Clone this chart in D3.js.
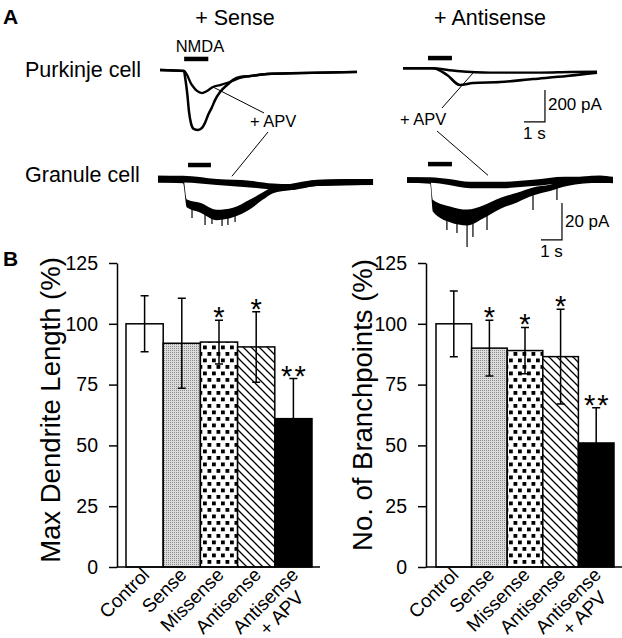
<!DOCTYPE html>
<html>
<head>
<meta charset="utf-8">
<script src="https://cdn.jsdelivr.net/npm/d3@7"></script>
<style>
  body { margin: 0; background: #fff; }
  svg { display: block; font-family: "Liberation Sans", Arial, Helvetica, sans-serif; }
</style>
</head>
<body>
<div id="fig"></div>
<script>
// ---- panel B data (percent of control) ----
const groups = ["Control", "Sense", "Missense", "Antisense", "Antisense + APV"];
const dendriteMean = [100, 92, 92.5, 90.5, 61];
const dendriteErr = [11.5, 18.5, 9, 14.5, 16.5];
const dendriteStars = ["", "", "*", "*", "**"];
const branchMean = [100, 90, 89, 86.5, 51];
const branchErr = [13.5, 11.5, 9.5, 19.5, 14.5];
const branchStars = ["", "*", "*", "*", "**"];
const yTicks = [0, 25, 50, 75, 100, 125];

// ---- panel A traces: [time (s), current (pA)] ----
const purkSenseCtl = [[0, 0], [1.14, -6], [1.2, -50], [1.3, -150], [1.38, -260], [1.48, -335], [1.6, -368],
  [1.81, -375], [2.0, -362], [2.14, -331], [2.29, -281], [2.48, -231], [2.62, -188], [2.86, -138],
  [3.19, -94], [3.48, -62], [3.81, -44], [4.29, -38], [5.1, -25], [6.67, -19], [9.38, -12]];
const purkSenseApv = [[0, 0], [1.14, -6], [1.52, -94], [1.76, -131], [2.0, -144], [2.24, -131],
  [2.52, -106], [2.86, -94], [3.33, -75], [3.81, -50], [4.29, -38], [5.1, -25], [6.67, -19], [9.38, -12]];
const purkAntiCtl = [[0, 0], [1.43, 0], [2.1, -42], [2.71, -104], [3.33, -92], [4.62, -86],
  [6.19, -67], [7.81, -48], [9.24, -27]];
const purkAntiApv = [[0, 0], [1.29, 0], [2.57, -17], [4.14, -27], [6.52, -27], [7.95, -23], [9.24, -21]];

// granule traces: [time (s), current (pA), noise half-width (pA)]
const granSenseCtl = [[0, 0.5, 1.8], [1.19, 0, 1.8], [1.38, -12.7, 2.2], [2.0, -14.9, 2.6], [2.81, -18.9, 2.8],
  [3.57, -17.6, 2.6], [4.38, -13.2, 2.6], [5.0, -8.6, 2.0], [5.48, -5.4, 1.7], [6.29, -3.8, 1.7],
  [7.57, -1.6, 1.7], [9.14, -1.1, 1.7], [10.24, -1.1, 1.6]];
const granSenseApv = [[0, 0.5, 1.8], [1.19, 0.5, 1.8], [2.81, -1.1, 1.6], [4.38, -2.2, 1.8], [5.48, -3.5, 1.6],
  [6.29, -3.8, 1.6], [7.57, -1.6, 1.6], [10.24, -1.1, 1.6]];
const granAntiCtl = [[0, 0, 1.5], [1.1, -0.5, 1.5], [1.24, -14, 3.2], [2.05, -18.6, 4.3], [2.86, -20.3, 4.3],
  [3.62, -17.3, 3.5], [4.43, -12.7, 3.0], [5.24, -9.5, 2.6], [6.0, -6.2, 2.2], [6.81, -4.3, 1.7],
  [7.62, -1.4, 1.9], [9.19, 0.5, 2.0], [9.81, 0, 1.7]];
const granAntiApv = [[0, 0, 1.5], [1.1, 0, 1.5], [2.0, -1.1, 1.6], [3.0, -2.7, 1.7], [4.5, -2.7, 1.7],
  [6.0, -1.6, 1.7], [7.5, 0, 1.7], [9.81, 0, 1.6]];
// downward spikes seen on the control granule traces: [time, peak pA]
const granSenseSpikes = [[1.62, -20.5], [2.24, -24.3], [2.57, -23.8], [3.05, -24.8], [3.33, -24.3], [3.67, -22.7]];
const granAntiSpikes = [[1.9, -27], [2.38, -28.6], [2.86, -36.2], [3.14, -30.8], [3.81, -27], [6.0, -16.2], [7.14, -10.8]];

// NMDA application windows [start, end] in s, and pointer targets [t, pA]
const nmdaPurkSense = [1.15, 2.3], nmdaPurkAnti = [1.19, 2.33];
const nmdaGranSense = [1.43, 2.52], nmdaGranAnti = [1.0, 2.14];
const apvTargetPurkSense = [2.52, -106], apvTargetPurkAnti = [3.33, -30];
const apvTargetGranSense = [3.52, 2.0], apvTargetGranAnti = [3.86, 2.5];

const W = 622, H = 638;
const svg = d3.select("#fig").append("svg").attr("width", W).attr("height", H)
  .style("background-color", "white");

// fills for the bars
const defs = svg.append("defs");
const stip = defs.append("pattern").attr("id", "stipple").attr("patternUnits", "userSpaceOnUse")
  .attr("width", 2).attr("height", 2);
stip.append("rect").attr("width", 2).attr("height", 2).attr("fill", "#dcdcdc");
stip.append("rect").attr("width", 1).attr("height", 1).attr("fill", "#8a8a8a");
const dots = defs.append("pattern").attr("id", "dots").attr("patternUnits", "userSpaceOnUse")
  .attr("width", 9).attr("height", 13);
dots.append("rect").attr("width", 9).attr("height", 13).attr("fill", "#fff");
dots.append("rect").attr("x", 0.5).attr("y", 1).attr("width", 3.8).attr("height", 3.8).attr("fill", "#000");
dots.append("rect").attr("x", 5).attr("y", 7.5).attr("width", 3.8).attr("height", 3.8).attr("fill", "#000");
const hatch = defs.append("pattern").attr("id", "hatch").attr("patternUnits", "userSpaceOnUse")
  .attr("width", 8).attr("height", 8);
hatch.append("rect").attr("width", 8).attr("height", 8).attr("fill", "#fff");
hatch.append("path").attr("d", "M-1,-1L9,9M-1,7L1,9M7,-1L9,1").attr("stroke", "#000").attr("stroke-width", 1.3);
const fills = ["#fff", "url(#stipple)", "url(#dots)", "url(#hatch)", "#000"];

// ================= Panel A =================
function traceScales(x0, y0, pxPerS, pxPerPA) {
  return {
    x: d3.scaleLinear().domain([0, 10]).range([x0, x0 + 10 * pxPerS]),
    y: d3.scaleLinear().domain([0, -100]).range([y0, y0 + 100 * pxPerPA])
  };
}
const purkL = traceScales(160, 70, 21, 32 / 200);
const purkR = traceScales(403, 68.3, 21, 32 / 200);
const granL = traceScales(158, 180, 21, 37 / 20);
const granR = traceScales(407, 180, 21, 37 / 20);

const A = svg.append("g");

function drawLine(s, data, w) {
  const line = d3.line().x(d => s.x(d[0])).y(d => s.y(d[1])).curve(d3.curveMonotoneX);
  A.append("path").datum(data).attr("fill", "none").attr("stroke", "#000")
    .attr("stroke-width", w).attr("stroke-linejoin", "round").attr("d", line);
}
function drawBand(s, data) {
  const area = d3.area().x(d => s.x(d[0]))
    .y0(d => s.y(d[1] - d[2])).y1(d => s.y(d[1] + d[2])).curve(d3.curveMonotoneX);
  A.append("path").datum(data).attr("fill", "#000").attr("d", area);
}
function drawSpikes(s, trace, spikes) {
  const bis = d3.bisector(d => d[0]).left;
  spikes.forEach(sp => {
    const i = Math.max(1, bis(trace, sp[0]));
    const a = trace[i - 1], b = trace[i];
    const f = (sp[0] - a[0]) / (b[0] - a[0]);
    const mid = a[1] + f * (b[1] - a[1]);
    A.append("line").attr("x1", s.x(sp[0])).attr("x2", s.x(sp[0]))
      .attr("y1", s.y(mid)).attr("y2", s.y(sp[1]))
      .attr("stroke", "#000").attr("stroke-width", 1.2);
  });
}
function nmdaBar(s, win, level) {
  A.append("line").attr("x1", s.x(win[0])).attr("x2", s.x(win[1]))
    .attr("y1", s.y(level)).attr("y2", s.y(level))
    .attr("stroke", "#000").attr("stroke-width", 4.5);
}
function pointer(x1, y1, s, target) {
  A.append("line").attr("x1", x1).attr("y1", y1)
    .attr("x2", s.x(target[0])).attr("y2", s.y(target[1]))
    .attr("stroke", "#000").attr("stroke-width", 1);
}
function text(g, x, y, str, size, anchor, weight) {
  return g.append("text").attr("x", x).attr("y", y).attr("font-size", size)
    .attr("text-anchor", anchor || "start").attr("font-weight", weight || "normal")
    .attr("fill", "#000").text(str);
}

// Purkinje traces
drawLine(purkL, purkSenseCtl, 2.5);
drawLine(purkL, purkSenseApv, 2.3);
drawLine(purkR, purkAntiCtl, 2.6);
drawLine(purkR, purkAntiApv, 2.4);
nmdaBar(purkL, nmdaPurkSense, 69);
nmdaBar(purkR, nmdaPurkAnti, 64);

// Granule traces
drawBand(granL, granSenseApv);
drawBand(granL, granSenseCtl);
drawSpikes(granL, granSenseCtl, granSenseSpikes);
drawBand(granR, granAntiApv);
drawBand(granR, granAntiCtl);
drawSpikes(granR, granAntiCtl, granAntiSpikes);
nmdaBar(granL, nmdaGranSense, 8.1);
nmdaBar(granR, nmdaGranAnti, 8.6);

// pointers from "+ APV" labels
pointer(264, 113, purkL, apvTargetPurkSense);
pointer(268, 132, granL, apvTargetGranSense);
pointer(442, 108, purkR, apvTargetPurkAnti);
pointer(437, 131, granR, apvTargetGranAnti);

// scale bars
function scaleBar(s, corner, pA, labelPA, labelS) {
  const cx = s.x(corner[0]), cy = s.y(corner[1]);
  A.append("path").attr("fill", "none").attr("stroke", "#000").attr("stroke-width", 1.2)
    .attr("d", `M${s.x(corner[0] - 1)},${cy}H${cx}V${s.y(corner[1] + pA)}`);
  text(A, cx + 3, labelPA, pA + " pA", 17);
  text(A, (s.x(corner[0] - 1) + cx) / 2, labelS, "1 s", 17, "middle");
}
scaleBar(purkR, [6.76, -335], 200, 110, 139);
scaleBar(granR, [7.38, -32.4], 20, 227, 257);

text(A, 3, 24, "A", 21, "start", "bold");
text(A, 235, 25, "+ Sense", 21.5, "middle");
text(A, 490, 25, "+ Antisense", 21.5, "middle");
text(A, 200, 52, "NMDA", 16.5, "middle");
text(A, 25, 77, "Purkinje cell", 21.5);
text(A, 25, 182, "Granule cell", 21.5);
text(A, 250, 127, "+ APV", 16.5);
text(A, 400, 125, "+ APV", 16.5);

// ================= Panel B =================
text(svg, 3, 266, "B", 21, "start", "bold");

function barChart(opts) {
  const g = svg.append("g");
  const x = d3.scaleBand().domain(groups).range(opts.range).padding(0);
  const y = d3.scaleLinear().domain([0, 125]).range([567, 263]);

  // bars
  g.selectAll("rect.bar").data(opts.mean).enter().append("rect").attr("class", "bar")
    .attr("x", (d, i) => x(groups[i])).attr("width", x.bandwidth())
    .attr("y", d => y(d)).attr("height", d => y(0) - y(d))
    .attr("fill", (d, i) => fills[i]).attr("stroke", "#000").attr("stroke-width", 1.5);

  // error bars
  const cap = 4;
  opts.mean.forEach((m, i) => {
    const cx = x(groups[i]) + x.bandwidth() / 2;
    const top = y(m + opts.err[i]), bot = y(m - opts.err[i]);
    g.append("path").attr("fill", "none").attr("stroke", "#000").attr("stroke-width", 1.5)
      .attr("d", `M${cx},${bot}V${top}M${cx - cap},${top}H${cx + cap}M${cx - cap},${bot}H${cx + cap}`);
    if (opts.stars[i]) {
      g.append("text").attr("x", cx + (opts.stars[i].length > 1 ? 1 : 0)).attr("y", top + 7)
        .attr("text-anchor", "middle")
        .attr("font-size", 29).attr("letter-spacing", opts.stars[i].length > 1 ? 2 : 0)
        .attr("fill", "#000").text(opts.stars[i]);
    }
  });

  // axis
  const ax = g.append("g").attr("transform", `translate(${opts.axisX},0)`)
    .call(d3.axisLeft(y).tickValues(yTicks).tickSize(8).tickSizeOuter(0).tickPadding(11));
  ax.selectAll("path, line").attr("stroke", "#000").attr("stroke-width", 1.5);
  ax.selectAll("text").attr("font-size", 19.5).attr("fill", "#000")
    .attr("font-family", "Liberation Sans, Arial, sans-serif");
  g.append("line").attr("x1", opts.axisX).attr("x2", opts.baseEnd)
    .attr("y1", y(0)).attr("y2", y(0)).attr("stroke", "#000").attr("stroke-width", 1.5);

  // category labels
  groups.forEach((name, i) => {
    const cx = x(name) + x.bandwidth() / 2;
    const parts = name.split(" + ");
    const lg = g.append("g").attr("transform", `translate(${cx + 6},576) rotate(-45)`);
    const t1 = text(lg, 0, 0, parts[0], 19, "end");
    if (parts.length > 1) {
      const w = t1.node().getComputedTextLength();
      text(lg, -w / 2 + 3, 20, "+ " + parts[1], 19, "middle");
    }
  });

  // y title
  g.append("text").attr("transform", `translate(${opts.titleX},${opts.titleY}) rotate(-90)`)
    .attr("text-anchor", "middle").attr("font-size", 27.5).attr("fill", "#000").text(opts.title);
}

barChart({
  mean: dendriteMean, err: dendriteErr, stars: dendriteStars,
  range: [126, 312], axisX: 117, baseEnd: 320,
  title: "Max Dendrite Length (%)", titleX: 60, titleY: 410
});
barChart({
  mean: branchMean, err: branchErr, stars: branchStars,
  range: [436, 614], axisX: 426, baseEnd: 622,
  title: "No. of Branchpoints (%)", titleX: 372, titleY: 405
});
</script>
</body>
</html>
